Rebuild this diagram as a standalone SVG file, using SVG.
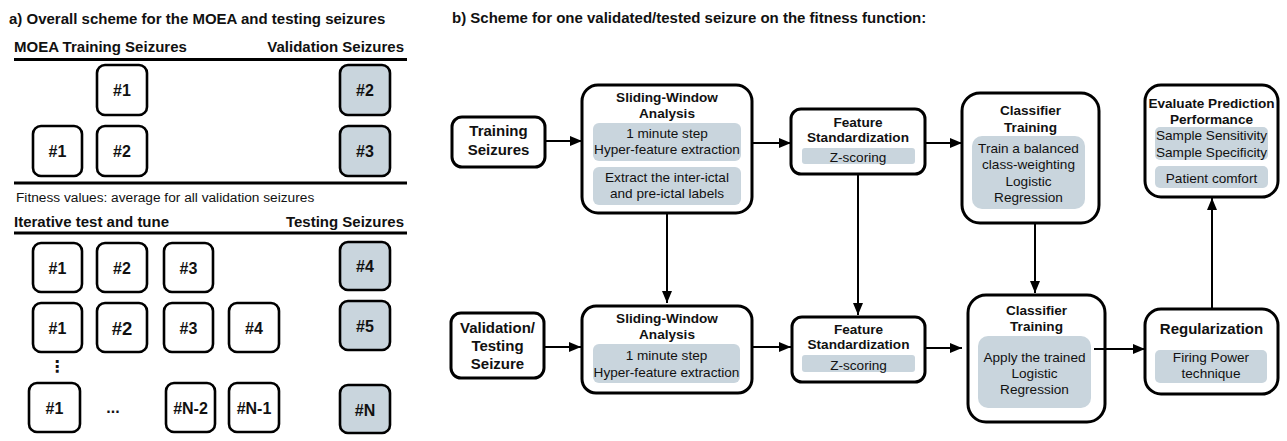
<svg xmlns="http://www.w3.org/2000/svg" width="1287" height="441" viewBox="0 0 1287 441">
  <style>
    text { font-family: "Liberation Sans", Arial, sans-serif; fill: #111; }
    .h { font-size: 15px; font-weight: bold; }
    .t { font-size: 13.6px; font-weight: bold; text-anchor: middle; }
    .tl { font-size: 15px; font-weight: bold; text-anchor: middle; }
    .b { font-size: 13.6px; text-anchor: middle; }
    .num { font-size: 16px; font-weight: bold; text-anchor: middle; }
    .seiz { fill: #fff; stroke: #000; stroke-width: 2.6; }
    .seiz.val { fill: #c9d5dd; }
    .node { fill: #fff; stroke: #000; stroke-width: 3; }
    .inner { fill: #c9d5dd; stroke: none; }
    .rule { stroke: #000; stroke-width: 2.8; }
    .conn { fill: none; stroke: #000; stroke-width: 2; marker-end: url(#arrow); }
  </style>
  <defs>
    <marker id="arrow" markerUnits="userSpaceOnUse" markerWidth="13" markerHeight="11" refX="12" refY="5" orient="auto">
      <path d="M0,0 L12,5 L0,10 z" fill="#000"/>
    </marker>
  </defs>
  <rect width="1287" height="441" fill="#fff"/>

  <!-- Panel a: seizure splits for the MOEA and the test phase -->
  <g id="panel-a">
    <text class="h" x="9" y="24">a) Overall scheme for the MOEA and testing seizures</text>
    <text class="h" x="14" y="52">MOEA Training Seizures</text>
    <text class="h" x="404" y="52" text-anchor="end">Validation Seizures</text>
    <line class="rule" x1="14" y1="59.5" x2="407" y2="59.5"/>

    <g id="moea-r1-s1"><rect class="seiz" x="97" y="65" width="50" height="50" rx="8"/><text class="num" x="122" y="96">#1</text></g>
    <g id="moea-r1-v2"><rect class="seiz val" x="340" y="65" width="50" height="50" rx="8"/><text class="num" x="365" y="96">#2</text></g>
    <g id="moea-r2-s1"><rect class="seiz" x="33" y="126" width="49" height="50" rx="8"/><text class="num" x="57.5" y="157">#1</text></g>
    <g id="moea-r2-s2"><rect class="seiz" x="97" y="126" width="50" height="50" rx="8"/><text class="num" x="122" y="157">#2</text></g>
    <g id="moea-r2-v3"><rect class="seiz val" x="340" y="126" width="50" height="50" rx="8"/><text class="num" x="365" y="157">#3</text></g>

    <line class="rule" x1="14" y1="183" x2="407" y2="183"/>
    <text x="16" y="201.5" style="font-size:13.7px">Fitness values: average for all validation seizures</text>

    <text class="h" x="14" y="226.5">Iterative test and tune</text>
    <text class="h" x="404" y="226.5" text-anchor="end">Testing Seizures</text>
    <line class="rule" x1="14" y1="233" x2="407" y2="233"/>

    <g id="test-r1-s1"><rect class="seiz" x="33" y="243" width="49" height="49" rx="8"/><text class="num" x="57.5" y="273.5">#1</text></g>
    <g id="test-r1-s2"><rect class="seiz" x="97" y="243" width="50" height="49" rx="8"/><text class="num" x="122" y="273.5">#2</text></g>
    <g id="test-r1-s3"><rect class="seiz" x="164" y="243" width="49" height="49" rx="8"/><text class="num" x="188.5" y="273.5">#3</text></g>
    <g id="test-r1-t4"><rect class="seiz val" x="340" y="242" width="50" height="48" rx="8"/><text class="num" x="365" y="272">#4</text></g>

    <g id="test-r2-s1"><rect class="seiz" x="33" y="303" width="49" height="49" rx="8"/><text class="num" x="57.5" y="333.5">#1</text></g>
    <g id="test-r2-s2"><rect class="seiz" x="97" y="303" width="50" height="49" rx="8"/><text class="num" x="122" y="334.5" style="font-size:18.5px">#2</text></g>
    <g id="test-r2-s3"><rect class="seiz" x="164" y="303" width="49" height="49" rx="8"/><text class="num" x="188.5" y="333.5">#3</text></g>
    <g id="test-r2-s4"><rect class="seiz" x="229" y="303" width="50" height="49" rx="8"/><text class="num" x="254" y="333.5">#4</text></g>
    <g id="test-r2-t5"><rect class="seiz val" x="340" y="301" width="50" height="49" rx="8"/><text class="num" x="365" y="331.5">#5</text></g>

    <text x="57" y="372" style="font-family:'DejaVu Sans',sans-serif;font-size:16px;font-weight:bold;text-anchor:middle">⋮</text>

    <g id="test-r3-s1"><rect class="seiz" x="29" y="383" width="51" height="49" rx="8"/><text class="num" x="54.5" y="413.5">#1</text></g>
    <text class="num" x="113" y="413">...</text>
    <g id="test-r3-sn2"><rect class="seiz" x="166" y="383" width="49" height="49" rx="8"/><text class="num" x="190.5" y="413.5">#N-2</text></g>
    <g id="test-r3-sn1"><rect class="seiz" x="229" y="383" width="50" height="49" rx="8"/><text class="num" x="254" y="413.5">#N-1</text></g>
    <g id="test-r3-tn"><rect class="seiz val" x="340" y="385" width="50" height="48" rx="8"/><text class="num" x="365" y="416">#N</text></g>
  </g>

  <!-- Panel b: fitness-function pipeline for one seizure -->
  <text class="h" x="452" y="23">b) Scheme for one validated/tested seizure on the fitness function:</text>

  <g id="training-seizures">
    <rect class="node" x="452" y="117" width="93" height="50" rx="10"/>
    <text class="tl" x="498.5" y="136">Training</text>
    <text class="tl" x="498.5" y="155">Seizures</text>
  </g>

  <g id="sliding-window-train">
    <rect class="node" x="582" y="85" width="170" height="128" rx="16"/>
    <text class="t" x="667" y="101.5">Sliding-Window</text>
    <text class="t" x="667" y="118">Analysis</text>
    <rect class="inner" x="593" y="123" width="148" height="38" rx="6"/>
    <text class="b" x="667" y="138">1 minute step</text>
    <text class="b" x="667" y="153.5">Hyper-feature extraction</text>
    <rect class="inner" x="593" y="167" width="148" height="38" rx="6"/>
    <text class="b" x="667" y="182">Extract the inter-ictal</text>
    <text class="b" x="667" y="198">and pre-ictal labels</text>
  </g>

  <g id="feature-std-train">
    <rect class="node" x="791" y="109" width="134" height="65" rx="10"/>
    <text class="t" x="858" y="127">Feature</text>
    <text class="t" x="858" y="142">Standardization</text>
    <rect class="inner" x="802" y="148" width="113" height="16" rx="3"/>
    <text class="b" x="858" y="161.5">Z-scoring</text>
  </g>

  <g id="classifier-train">
    <rect class="node" x="962" y="93" width="137" height="130" rx="18"/>
    <text class="t" x="1030.5" y="115">Classifier</text>
    <text class="t" x="1030.5" y="131.5">Training</text>
    <rect class="inner" x="972" y="136" width="113" height="73" rx="10"/>
    <text class="b" x="1028.5" y="153">Train a balanced</text>
    <text class="b" x="1028.5" y="169">class-weighting</text>
    <text class="b" x="1028.5" y="185.5">Logistic</text>
    <text class="b" x="1028.5" y="201.5">Regression</text>
  </g>

  <g id="evaluate-performance">
    <rect class="node" x="1145" y="85" width="133" height="112" rx="16"/>
    <text class="t" x="1211.5" y="108">Evaluate Prediction</text>
    <text class="t" x="1211.5" y="124">Performance</text>
    <rect class="inner" x="1155" y="127" width="113" height="33" rx="5"/>
    <text class="b" x="1211.5" y="140">Sample Sensitivity</text>
    <text class="b" x="1211.5" y="157">Sample Specificity</text>
    <rect class="inner" x="1155" y="166" width="113" height="22" rx="5"/>
    <text class="b" x="1211.5" y="183">Patient comfort</text>
  </g>

  <g id="validation-seizure">
    <rect class="node" x="451" y="313" width="93" height="65" rx="10"/>
    <text class="tl" x="497.5" y="333">Validation/</text>
    <text class="tl" x="497.5" y="351">Testing</text>
    <text class="tl" x="497.5" y="369">Seizure</text>
  </g>

  <g id="sliding-window-test">
    <rect class="node" x="582" y="306" width="170" height="87" rx="14"/>
    <text class="t" x="667" y="323">Sliding-Window</text>
    <text class="t" x="667" y="339">Analysis</text>
    <rect class="inner" x="593" y="344" width="147" height="39" rx="6"/>
    <text class="b" x="666.5" y="360">1 minute step</text>
    <text class="b" x="666.5" y="377">Hyper-feature extraction</text>
  </g>

  <g id="feature-std-test">
    <rect class="node" x="792" y="317" width="133" height="65" rx="10"/>
    <text class="t" x="858.5" y="334">Feature</text>
    <text class="t" x="858.5" y="349">Standardization</text>
    <rect class="inner" x="802" y="355" width="113" height="17" rx="3"/>
    <text class="b" x="858.5" y="369.5">Z-scoring</text>
  </g>

  <g id="classifier-apply">
    <rect class="node" x="968" y="295" width="137" height="127" rx="18"/>
    <text class="t" x="1036.5" y="315">Classifier</text>
    <text class="t" x="1036.5" y="331">Training</text>
    <rect class="inner" x="978" y="336" width="113" height="72" rx="10"/>
    <text class="b" x="1034.5" y="362">Apply the trained</text>
    <text class="b" x="1034.5" y="378">Logistic</text>
    <text class="b" x="1034.5" y="394">Regression</text>
  </g>

  <g id="regularization">
    <rect class="node" x="1145" y="309" width="133" height="85" rx="16"/>
    <text class="tl" x="1211.5" y="333.5">Regularization</text>
    <rect class="inner" x="1155" y="350" width="112" height="33" rx="5"/>
    <text class="b" x="1211" y="362">Firing Power</text>
    <text class="b" x="1211" y="378">technique</text>
  </g>

  <g id="connectors">
    <line class="conn" x1="545" y1="141" x2="582" y2="141"/>
    <line class="conn" x1="752" y1="143" x2="791" y2="143"/>
    <line class="conn" x1="925" y1="143" x2="962" y2="143"/>
    <line class="conn" x1="667" y1="213" x2="667" y2="303"/>
    <line class="conn" x1="858" y1="174" x2="858" y2="315"/>
    <line class="conn" x1="1035" y1="223" x2="1035" y2="293"/>
    <line class="conn" x1="544" y1="347" x2="581" y2="347"/>
    <line class="conn" x1="752" y1="347" x2="791" y2="347"/>
    <line class="conn" x1="925" y1="348" x2="962" y2="348"/>
    <line class="conn" x1="1094" y1="349" x2="1145" y2="349"/>
    <line class="conn" x1="1212" y1="309" x2="1212" y2="198"/>
  </g>
</svg>
